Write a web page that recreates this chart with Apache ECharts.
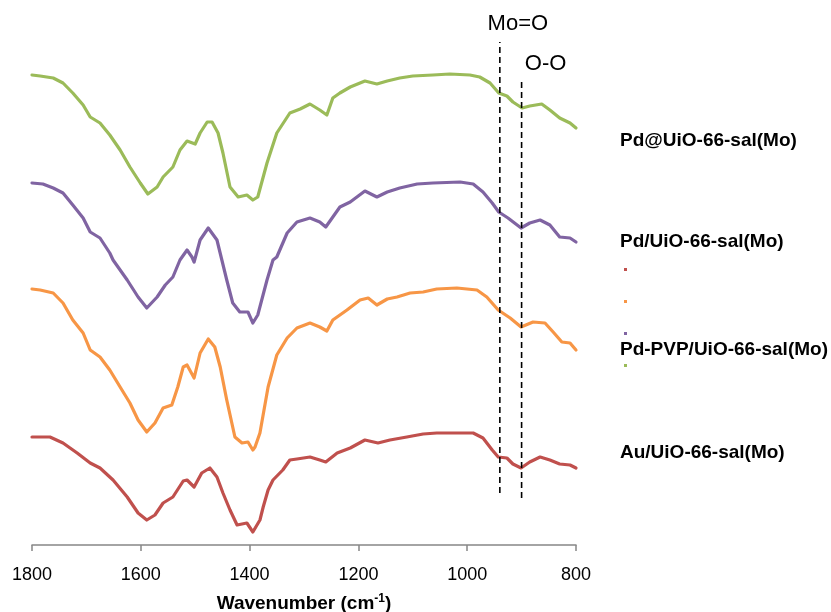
<!DOCTYPE html>
<html>
<head>
<meta charset="utf-8">
<script src="https://cdn.jsdelivr.net/npm/echarts@6/dist/echarts.min.js"></script>
<style>html,body{margin:0;padding:0;background:#fff}#c{width:831px;height:612px}</style>
</head>
<body>
<div id="c"></div>
<script>
// Sample names (top to bottom on the chart)
const names = ['Pd@UiO-66-sal(Mo)', 'Pd/UiO-66-sal(Mo)', 'Pd-PVP/UiO-66-sal(Mo)', 'Au/UiO-66-sal(Mo)'];
const xTicks = [1800, 1600, 1400, 1200, 1000, 800];
const peakMoO = 940;
const peakOO = 900;
const peakMoOSpan = [52, 503];
const peakOOSpan = [47, 465];

// Pd@UiO-66-sal(Mo) (green)
const wnPdAt = [1800,1785,1761,1743,1725,1706,1693,1675,1657,1638,1620,1601,1587,1570,1559,1541,1528,1515,1500,1491,1478,1469,1458,1449,1436,1421,1405,1394,1385,1368,1350,1326,1307,1289,1271,1258,1247,1234,1215,1188,1166,1147,1124,1100,1063,1032,995,977,958,942,927,916,899,885,863,848,830,811,800];
const valPdAt = [470,469,467,462,452,440,428,422,410,395,378,362,351,358,368,378,395,404,401,412,423,423,412,392,358,348,350,345,348,382,412,432,436,441,435,430,447,452,458,464,461,464,467,469,470,471,470,468,462,452,449,443,437,439,441,435,427,422,417];

// Pd/UiO-66-sal(Mo) (purple)
const wnPdSl = [1800,1780,1761,1743,1725,1706,1693,1675,1657,1651,1625,1605,1589,1570,1555,1541,1528,1515,1506,1502,1491,1476,1460,1451,1442,1431,1418,1403,1394,1385,1368,1357,1350,1331,1313,1289,1271,1260,1247,1234,1215,1188,1166,1147,1124,1092,1063,1013,989,971,954,942,925,901,885,866,848,830,811,800];
const valPdSl = [362,361,357,352,340,327,313,307,292,285,265,248,237,248,260,268,285,295,288,283,305,317,305,285,265,242,233,233,222,230,265,285,288,312,323,327,323,318,328,338,343,354,348,353,357,361,362,363,361,353,342,333,327,317,322,325,320,308,307,303];

// Pd-PVP/UiO-66-sal(Mo) (orange)
const wnPVP = [1800,1785,1761,1743,1725,1706,1693,1675,1657,1638,1620,1605,1589,1574,1559,1543,1532,1522,1515,1502,1491,1476,1464,1454,1442,1427,1414,1403,1394,1390,1381,1366,1350,1331,1313,1289,1271,1258,1247,1221,1197,1182,1166,1147,1129,1105,1081,1056,1019,982,964,943,921,901,879,857,842,826,811,800];
const valPVP = [256,255,252,242,225,212,195,188,175,158,142,125,113,122,137,140,158,178,180,167,192,206,198,178,145,108,102,103,95,98,112,158,190,207,217,222,218,214,225,235,245,247,240,246,248,252,253,256,257,255,248,235,227,218,223,222,213,203,202,195];

// Au/UiO-66-sal(Mo) (red)
const wnAu = [1800,1767,1743,1717,1693,1675,1651,1625,1605,1589,1574,1559,1541,1522,1515,1502,1488,1473,1460,1449,1436,1423,1405,1394,1381,1375,1366,1357,1339,1326,1313,1289,1271,1260,1239,1215,1188,1164,1142,1111,1081,1056,989,971,954,943,927,916,901,885,866,848,830,811,800];
const valAu = [108,108,102,92,82,77,65,48,32,25,30,42,48,64,65,58,72,77,68,52,35,20,22,13,25,38,55,65,75,85,86,88,85,83,92,97,105,102,105,108,111,112,112,107,95,88,87,81,77,83,88,85,81,80,77];

const colors = {green:'#9BBB59', purple:'#8064A2', orange:'#F79646', red:'#C0504D'};
const FONT = 'Liberation Sans, Arial, sans-serif';

function pairs(xs, ys){ return xs.map((x,i)=>[x, ys[i]]); }

const chart = echarts.init(document.getElementById('c'), null, {renderer:'canvas'});

const lineSeries = (name, xs, ys, color) => ({
  name, type:'line', data:pairs(xs, ys), showSymbol:false, symbol:'none',
  lineStyle:{color, width:3.2, join:'round', cap:'round'}, itemStyle:{color}, z:3, silent:true
});

const peakSeries = (x, span) => ({
  type:'line', silent:true, symbol:'none', showSymbol:false, z:4, clip:false,
  lineStyle:{color:'#000', width:1.6, type:[6,4]},
  data:[[x, span[0]], [x, span[1]]]
});

const peakLabels = {
  type:'scatter', silent:true, symbol:'circle', symbolSize:1, z:5, clip:false,
  itemStyle:{color:'rgba(0,0,0,0)'},
  label:{show:true, position:'top', distance:7, color:'#000', opacity:1, fontSize:22, fontFamily:FONT,
         formatter:p=>p.data.name},
  labelLayout:p => ({hideOverlap:false, dx: p.dataIndex === 0 ? 18 : 24, dy: p.dataIndex === 0 ? 0 : 2}),
  data:[
    {name:'Mo=O', value:[peakMoO, peakMoOSpan[1]]},
    {name:'O-O', value:[peakOO, peakOOSpan[1]]}
  ]
};

const option = {
  animation:false,
  backgroundColor:'#fff',
  grid:{left:32, right:255, top:0, bottom:67, outerBoundsMode:'none', containLabel:false},
  xAxis:{
    type:'value', inverse:true, min:800, max:1800, interval:200,
    axisLine:{show:true, lineStyle:{color:'#868686', width:1.5}},
    axisTick:{show:true, length:6, lineStyle:{color:'#868686', width:1.5}},
    splitLine:{show:false},
    axisLabel:{fontSize:18, color:'#000', fontFamily:FONT, margin:21, formatter:v=>String(v)},
    name:'Wavenumber (cm{sup|-1})', nameLocation:'middle', nameGap:48,
    nameTextStyle:{fontSize:19, fontWeight:'bold', color:'#000', fontFamily:FONT,
      rich:{sup:{fontSize:12, fontWeight:'bold', color:'#000', verticalAlign:'top', padding:[0,0,9,0], fontFamily:FONT}}}
  },
  yAxis:{type:'value', min:0, max:545, show:false},
  legend:{
    orient:'vertical', left:619, top:263, itemWidth:3, itemHeight:3, itemGap:29,
    icon:'rect', formatter:()=>'', textStyle:{fontSize:1, lineHeight:3},
    data:[names[3], names[2], names[1], names[0]]
  },
  series:[
    lineSeries(names[3], wnAu, valAu, colors.red),
    lineSeries(names[2], wnPVP, valPVP, colors.orange),
    lineSeries(names[1], wnPdSl, valPdSl, colors.purple),
    lineSeries(names[0], wnPdAt, valPdAt, colors.green),
    peakSeries(peakMoO, peakMoOSpan),
    peakSeries(peakOO, peakOOSpan),
    peakLabels
  ],
  graphic: [141, 242, 350, 453].map((y, i) => ({
    type:'text', left:620, top:y - 10,
    style:{text:names[i], fontSize:19, fontWeight:'bold', fill:'#000', fontFamily:FONT}
  }))
};
chart.setOption(option);
</script>
</body>
</html>
